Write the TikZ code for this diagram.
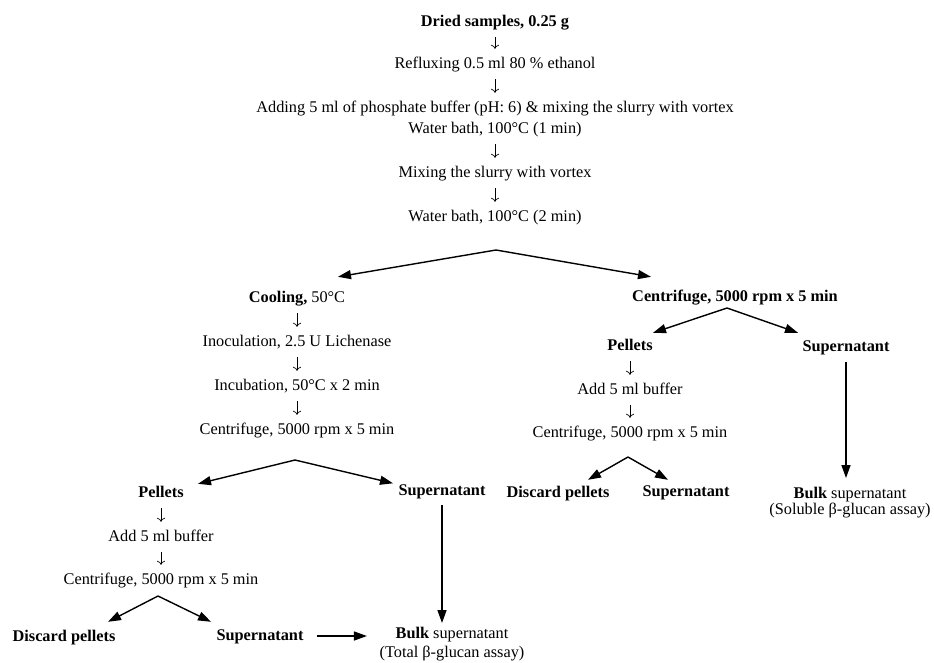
\documentclass[tikz,border=0pt]{standalone}
\usepackage{fontspec}
\setmainfont{Liberation Serif}
\usetikzlibrary{arrows.meta}
\tikzset{
    txt/.style={font=\fontsize{16.3}{19}\selectfont, inner sep=0pt, text height=11.5pt, text depth=3.5pt},
    res/.style={font=\fontsize{16.3}{19}\selectfont, inner sep=0pt, align=center, anchor=north},
    flow/.style={-{Computer Modern Rightarrow[length=4pt,width=8pt]}, line width=0.7pt, shorten <=7.5pt, shorten >=7.5pt},
    branch/.style={-{Triangle[length=13pt,width=9pt]}, line width=1.4pt},
}
\begin{document}
\begin{tikzpicture}[x=1pt, y=-1pt]
    \useasboundingbox (0,0) rectangle (934,662);
    % Main column
    \node[txt] (dried)  at (495,22)  {\textbf{Dried samples, 0.25 g}};
    \node[txt] (reflux) at (495,64)  {Refluxing 0.5 ml 80 \% ethanol};
    \node[txt] (phos)   at (495,108) {Adding 5 ml of phosphate buffer (pH: 6) \& mixing the slurry with vortex};
    \node[txt] (bath1)  at (495,129) {Water bath, 100°C (1 min)};
    \node[txt] (mix)    at (495,173) {Mixing the slurry with vortex};
    \node[txt] (bath2)  at (495,217) {Water bath, 100°C (2 min)};
    % Left branch
    \node[txt] (cool)  at (297,298) {\textbf{Cooling,} 50°C};
    \node[txt] (inoc)  at (297,342) {Inoculation, 2.5 U Lichenase};
    \node[txt] (incub) at (297,386) {Incubation, 50°C x 2 min};
    \node[txt] (cent1) at (297,430) {Centrifuge, 5000 rpm x 5 min};
    \node[txt] (pel1)  at (161,493) {\textbf{Pellets}};
    \node[txt] (sup1)  at (442,491) {\textbf{Supernatant}};
    \node[txt] (add1)  at (161,537) {Add 5 ml buffer};
    \node[txt] (cent2) at (161,580) {Centrifuge, 5000 rpm x 5 min};
    \node[txt] (disc1) at (64,637)  {\textbf{Discard pellets}};
    \node[txt] (sup2)  at (260,636) {\textbf{Supernatant}};
    \node[res] (bulk1) at (452,627) {\textbf{Bulk} supernatant\\(Total β-glucan assay)};
    % Right branch
    \node[txt] (cent3) at (735,297) {\textbf{Centrifuge, 5000 rpm x 5 min}};
    \node[txt] (pel2)  at (630,346) {\textbf{Pellets}};
    \node[txt] (sup3)  at (846,347) {\textbf{Supernatant}};
    \node[txt] (add2)  at (630,390) {Add 5 ml buffer};
    \node[txt] (cent4) at (630,433) {Centrifuge, 5000 rpm x 5 min};
    \node[txt] (disc2) at (558,493) {\textbf{Discard pellets}};
    \node[txt] (sup4)  at (686,492) {\textbf{Supernatant}};
    \node[res] (bulk2) at (850,487) {\textbf{Bulk} supernatant\\[-3pt](Soluble β-glucan assay)};
    % Split points
    \coordinate (split1) at (496,250);
    \coordinate (split2) at (295,460);
    \coordinate (split3) at (158,596);
    \coordinate (split4) at (727,308);
    \coordinate (split5) at (628,457);
    % Small arrows
    \foreach \a/\b in {dried/reflux, reflux/phos, bath1/mix, mix/bath2, cool/inoc, inoc/incub, incub/cent1,
                       pel1/add1, add1/cent2, pel2/add2, add2/cent4}
        \draw[flow] (\a) -- (\b);
    % Branches
    \draw[branch] (split1) -- ([xshift=41pt,yshift=13.5pt]cool.north);
    \draw[branch] (split1) -- ([xshift=-84pt,yshift=12.5pt]cent3.north);
    \draw[branch] (split2) -- ([xshift=37pt,yshift=1.5pt]pel1.north);
    \draw[branch] (split2) -- ([xshift=-49pt]sup1.north);
    \draw[branch] (split3) -- ([xshift=44pt,yshift=7.5pt]disc1.north);
    \draw[branch] (split3) -- ([xshift=-49pt,yshift=6.5pt]sup2.north);
    \draw[branch] (split4) -- ([xshift=23pt,yshift=5.5pt]pel2.north);
    \draw[branch] (split4) -- ([xshift=-48pt,yshift=6.5pt]sup3.north);
    \draw[branch] (split5) -- ([xshift=30pt,yshift=5.5pt]disc2.north);
    \draw[branch] (split5) -- ([xshift=-18pt,yshift=4.5pt]sup4.north);
    % To bulk supernatant
    \draw[branch, shorten <=6.5pt, shorten >=4pt] (sup1.south) -- (sup1.south |- bulk1.north);
    \draw[branch, shorten <=13pt, shorten >=12.5pt] (sup2.east) -- (sup2.east -| bulk1.west);
    \draw[branch, shorten <=7.5pt, shorten >=9pt] (sup3.south) -- (sup3.south |- bulk2.north);
\end{tikzpicture}
\end{document}
